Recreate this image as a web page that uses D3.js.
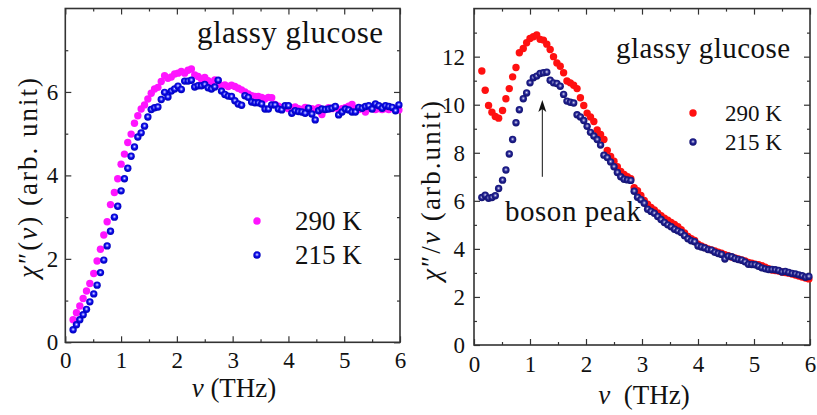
<!DOCTYPE html>
<html>
<head>
<meta charset="utf-8">
<script src="https://cdn.jsdelivr.net/npm/d3@7.9.0/dist/d3.min.js"></script>
<style>
  body { margin: 0; background: #fff; }
  svg text { fill: #111; }
</style>
</head>
<body>
<svg id="chart" width="817" height="415"></svg>
<script>
// frequency grid (THz), shared by both panels
const freq = [0.14, 0.20, 0.26, 0.32, 0.38, 0.44, 0.51, 0.57, 0.63, 0.69,
  0.75, 0.81, 0.88, 0.94, 1.00, 1.06, 1.12, 1.18, 1.24, 1.30,
  1.36, 1.42, 1.48, 1.54, 1.60, 1.66, 1.72, 1.78, 1.84, 1.90,
  1.96, 2.02, 2.08, 2.14, 2.20, 2.26, 2.32, 2.38, 2.44, 2.50,
  2.56, 2.62, 2.68, 2.74, 2.80, 2.86, 2.92, 2.98, 3.04, 3.10,
  3.16, 3.22, 3.28, 3.34, 3.40, 3.46, 3.52, 3.58, 3.64, 3.70,
  3.76, 3.82, 3.88, 3.94, 4.00, 4.06, 4.12, 4.18, 4.24, 4.30,
  4.36, 4.42, 4.48, 4.54, 4.60, 4.66, 4.72, 4.78, 4.84, 4.90,
  4.96, 5.02, 5.08, 5.14, 5.20, 5.26, 5.32, 5.38, 5.44, 5.50,
  5.56, 5.62, 5.68, 5.74, 5.80, 5.86, 5.92, 5.98];

// left panel: chi''(nu)
const chi290 = [0.54, 0.71, 0.87, 1.05, 1.23, 1.41, 1.65, 1.95, 2.23, 2.57,
  2.89, 3.30, 3.59, 3.92, 4.27, 4.51, 4.79, 4.99, 5.25, 5.43,
  5.59, 5.69, 5.83, 5.97, 6.07, 6.11, 6.25, 6.39, 6.33, 6.36,
  6.43, 6.45, 6.49, 6.45, 6.52, 6.55, 6.41, 6.37, 6.31, 6.35,
  6.27, 6.21, 6.29, 6.27, 6.15, 6.17, 6.13, 6.16, 6.13, 6.09,
  6.05, 6.00, 5.95, 5.91, 5.89, 5.89, 5.87, 5.83, 5.87, 5.86,
  5.70, 5.66, 5.62, 5.63, 5.60, 5.62, 5.64, 5.60, 5.58, 5.63,
  5.57, 5.60, 5.58, 5.62, 5.46, 5.58, 5.62, 5.60, 5.63, 5.58,
  5.60, 5.62, 5.66, 5.70, 5.60, 5.58, 5.60, 5.52, 5.60, 5.62,
  5.58, 5.60, 5.58, 5.60, 5.58, 5.62, 5.58, 5.57];
const chi215 = [0.30, 0.42, 0.54, 0.66, 0.79, 0.97, 1.16, 1.37, 1.67, 1.97,
  2.31, 2.66, 3.00, 3.26, 3.63, 3.92, 4.17, 4.46, 4.68, 4.92,
  5.02, 5.18, 5.40, 5.58, 5.62, 5.64, 5.82, 5.99, 5.88, 6.02,
  6.07, 6.14, 6.06, 6.26, 6.26, 6.28, 6.12, 6.15, 6.15, 6.18,
  6.10, 6.07, 6.12, 6.28, 6.02, 5.94, 5.90, 5.89, 5.79, 5.71,
  5.68, 5.91, 5.87, 5.76, 5.74, 5.74, 5.71, 5.59, 5.59, 5.69,
  5.69, 5.59, 5.57, 5.67, 5.67, 5.49, 5.55, 5.53, 5.52, 5.49,
  5.61, 5.47, 5.33, 5.55, 5.59, 5.58, 5.59, 5.61, 5.65, 5.45,
  5.52, 5.59, 5.57, 5.52, 5.52, 5.63, 5.61, 5.65, 5.67, 5.59,
  5.71, 5.67, 5.61, 5.67, 5.65, 5.63, 5.55, 5.69];

// right panel: chi''/nu
const ratio290 = [11.40, 10.60, 9.97, 9.69, 9.51, 9.44, 9.76, 10.25, 10.67, 11.16,
  11.55, 12.16, 12.34, 12.58, 12.76, 12.83, 12.90, 12.72, 12.69, 12.52,
  12.30, 12.00, 11.74, 11.60, 11.33, 10.99, 10.91, 10.81, 10.67, 10.29,
  9.97, 9.65, 9.49, 9.30, 8.95, 8.76, 8.55, 8.10, 7.85, 7.65,
  7.42, 7.22, 7.10, 7.00, 6.92, 6.55, 6.42, 6.22, 6.02, 5.86,
  5.72, 5.62, 5.50, 5.38, 5.28, 5.19, 5.10, 5.02, 4.92, 4.80,
  4.66, 4.52, 4.42, 4.35, 4.20, 4.12, 4.06, 4.00, 3.96, 3.91,
  3.86, 3.82, 3.76, 3.72, 3.66, 3.62, 3.58, 3.54, 3.50, 3.44,
  3.40, 3.36, 3.34, 3.30, 3.24, 3.18, 3.12, 3.10, 3.08, 3.04,
  3.02, 2.99, 2.95, 2.91, 2.87, 2.83, 2.79, 2.75];
const ratio215 = [6.14, 6.23, 6.11, 6.14, 6.21, 6.51, 6.86, 7.28, 7.95, 8.55,
  9.25, 9.79, 10.25, 10.49, 10.91, 11.12, 11.19, 11.30, 11.33, 11.35,
  11.02, 10.91, 10.88, 10.77, 10.43, 10.15, 10.10, 10.07, 9.58, 9.49,
  9.34, 9.10, 8.85, 8.70, 8.55, 8.32, 7.90, 7.80, 7.62, 7.42,
  7.18, 7.00, 6.90, 6.87, 6.85, 6.40, 6.15, 6.05, 5.90, 5.65,
  5.56, 5.48, 5.35, 5.22, 5.10, 5.00, 4.92, 4.82, 4.75, 4.68,
  4.55, 4.42, 4.34, 4.30, 4.12, 4.08, 4.04, 3.97, 3.95, 3.86,
  3.81, 3.77, 3.58, 3.70, 3.67, 3.60, 3.56, 3.53, 3.46, 3.36,
  3.35, 3.34, 3.28, 3.21, 3.17, 3.14, 3.14, 3.13, 3.10, 3.04,
  3.06, 3.02, 2.98, 2.96, 2.92, 2.88, 2.82, 2.85];

const xTicks = [0, 1, 2, 3, 4, 5, 6];
const leftYTicks = [0, 2, 4, 6];
const rightYTicks = [0, 2, 4, 6, 8, 10, 12];
const seriesNames = ['290 K', '215 K'];
const arrowAt = { nu: 1.22, from: 7.0, to: 10.2 };

const serif = "'Liberation Serif', Tinos, 'Nimbus Roman', FreeSerif, 'Noto Serif', 'DejaVu Serif', 'Times New Roman', Times, serif";
const svg = d3.select('#chart');
const defs = svg.append('defs');

// shaded "sphere" markers for the 215 K data
function sphere(id, light, mid, dark) {
  const g = defs.append('radialGradient').attr('id', id)
    .attr('cx', '50%').attr('cy', '45%').attr('r', '55%');
  g.append('stop').attr('offset', '0%').attr('stop-color', '#f4f4ff');
  g.append('stop').attr('offset', '22%').attr('stop-color', light);
  g.append('stop').attr('offset', '50%').attr('stop-color', mid);
  g.append('stop').attr('offset', '100%').attr('stop-color', dark);
}
sphere('blueBall', '#7878ff', '#0a0ae6', '#0000b8');
sphere('navyBall', '#7a7ac0', '#1e1e8e', '#12126e');

function panel(o) {
  const x = d3.scaleLinear().domain([0, 6]).range([o.left, o.right]);
  const y = d3.scaleLinear().domain([0, o.yMax]).range([o.bottom, o.top]);
  const g = svg.append('g');

  // minor ticks on all four sides
  const minorX = d3.range(0.5, 6, 1);
  const minorY = d3.range(1, o.yMax, 2);
  g.append('g').attr('transform', `translate(0,${o.bottom})`)
    .call(d3.axisBottom(x).tickValues(minorX).tickSize(-3).tickFormat(''));
  g.append('g').attr('transform', `translate(0,${o.top})`)
    .call(d3.axisTop(x).tickValues(minorX).tickSize(-3).tickFormat(''));
  g.append('g').attr('transform', `translate(${o.left},0)`)
    .call(d3.axisLeft(y).tickValues(minorY).tickSize(-3).tickFormat(''));
  g.append('g').attr('transform', `translate(${o.right},0)`)
    .call(d3.axisRight(y).tickValues(minorY).tickSize(-3).tickFormat(''));

  // major ticks
  g.append('g').attr('transform', `translate(0,${o.bottom})`)
    .call(d3.axisBottom(x).tickValues(xTicks).tickSize(-6).tickPadding(o.xPad).tickFormat(d3.format('d')));
  g.append('g').attr('transform', `translate(0,${o.top})`)
    .call(d3.axisTop(x).tickValues(xTicks).tickSize(-6).tickFormat(''));
  g.append('g').attr('transform', `translate(${o.left},0)`)
    .call(d3.axisLeft(y).tickValues(o.yTicks).tickSize(-6).tickPadding(o.yPad).tickFormat(d3.format('d')));
  g.append('g').attr('transform', `translate(${o.right},0)`)
    .call(d3.axisRight(y).tickValues(o.yTicks).tickSize(-6).tickFormat(''));

  g.selectAll('.domain').remove();
  g.selectAll('.tick line').attr('stroke', '#333').attr('stroke-width', 1.2);
  g.selectAll('.tick text').attr('font-size', o.tickFont).attr('fill', '#111');

  g.append('rect')
    .attr('x', o.left).attr('y', o.top)
    .attr('width', o.right - o.left).attr('height', o.bottom - o.top)
    .attr('fill', 'none').attr('stroke', '#333').attr('stroke-width', 1.6);

  const pts = (vals) => freq.map((f, i) => ({ f, v: vals[i] }));

  g.append('g').selectAll('circle').data(pts(o.hot)).join('circle')
    .attr('cx', d => x(d.f)).attr('cy', d => y(d.v)).attr('r', 3.7)
    .attr('fill', o.hotColor);
  g.append('g').selectAll('circle').data(pts(o.cold)).join('circle')
    .attr('cx', d => x(d.f)).attr('cy', d => y(d.v)).attr('r', 3.7)
    .attr('fill', `url(#${o.coldFill})`);

  return { g, x, y };
}

// ---- left panel ----
const L = panel({
  left: 65.3, right: 400, top: 8.5, bottom: 342.3, yMax: 8,
  yTicks: leftYTicks, xPad: 9, yPad: 7, tickFont: 23,
  hot: chi290, cold: chi215, hotColor: '#ff14ff', coldFill: 'blueBall'
});

L.g.append('text').attr('x', 383).attr('y', 43).attr('text-anchor', 'end')
  .attr('font-size', 31).attr('textLength', 186).text('glassy glucose');

const legL = L.g.append('g');
legL.append('circle').attr('cx', 257).attr('cy', 221).attr('r', 3.7).attr('fill', '#ff14ff');
legL.append('circle').attr('cx', 257).attr('cy', 255).attr('r', 3.7).attr('fill', 'url(#blueBall)');
legL.selectAll('text').data(seriesNames).join('text')
  .attr('x', 295).attr('y', (d, i) => 230 + i * 34)
  .attr('font-size', 27).text(d => d);

const ltitle = L.g.append('text')
  .attr('transform', 'translate(37,178) rotate(-90)')
  .attr('text-anchor', 'middle').attr('font-size', 27).attr('textLength', 200);
ltitle.append('tspan').attr('font-style', 'italic').text('χ');
ltitle.append('tspan').text('″(');
ltitle.append('tspan').attr('font-style', 'italic').text('ν');
ltitle.append('tspan').text(') (arb. unit)');

const lx = L.g.append('text').attr('x', 234).attr('y', 397)
  .attr('text-anchor', 'middle').attr('font-size', 27);
lx.append('tspan').attr('font-style', 'italic').text('ν');
lx.append('tspan').text(' (THz)');

// ---- right panel ----
const R = panel({
  left: 474, right: 810, top: 8.6, bottom: 345, yMax: 14,
  yTicks: rightYTicks, xPad: 11, yPad: 9, tickFont: 23,
  hot: ratio290, cold: ratio215, hotColor: '#ff1010', coldFill: 'navyBall'
});

R.g.append('text').attr('x', 790).attr('y', 58).attr('text-anchor', 'end')
  .attr('font-size', 29).attr('textLength', 174).text('glassy glucose');

const legR = R.g.append('g');
legR.append('circle').attr('cx', 693).attr('cy', 113).attr('r', 3.7).attr('fill', '#ff1010');
legR.append('circle').attr('cx', 693).attr('cy', 142).attr('r', 3.7).attr('fill', 'url(#navyBall)');
legR.selectAll('text').data(seriesNames).join('text')
  .attr('x', 725).attr('y', (d, i) => 121 + i * 29)
  .attr('font-size', 23).text(d => d);

// boson peak annotation
R.g.append('line')
  .attr('x1', R.x(arrowAt.nu)).attr('x2', R.x(arrowAt.nu))
  .attr('y1', R.y(arrowAt.from)).attr('y2', R.y(arrowAt.to) + 6)
  .attr('stroke', '#111').attr('stroke-width', 1);
R.g.append('path')
  .attr('d', `M${R.x(arrowAt.nu)},${R.y(arrowAt.to)} l-4,12 l4,-3 l4,3 z`)
  .attr('fill', '#111');
R.g.append('text').attr('x', 505).attr('y', 221)
  .attr('font-size', 29).attr('textLength', 136).text('boson peak');

const rtitle = R.g.append('text')
  .attr('transform', 'translate(440,191) rotate(-90)')
  .attr('text-anchor', 'middle').attr('font-size', 27).attr('textLength', 180);
rtitle.append('tspan').attr('font-style', 'italic').text('χ');
rtitle.append('tspan').text('″/');
rtitle.append('tspan').attr('font-style', 'italic').text('ν');
rtitle.append('tspan').text(' (arb.unit)');

const rx = R.g.append('text').attr('x', 644).attr('y', 404)
  .attr('text-anchor', 'middle').attr('font-size', 27);
rx.append('tspan').attr('font-style', 'italic').text('ν');
rx.append('tspan').text('\u00a0\u00a0(THz)');

svg.selectAll('g').attr('font-family', null);
svg.selectAll('text').style('font-family', serif);
</script>
</body>
</html>
